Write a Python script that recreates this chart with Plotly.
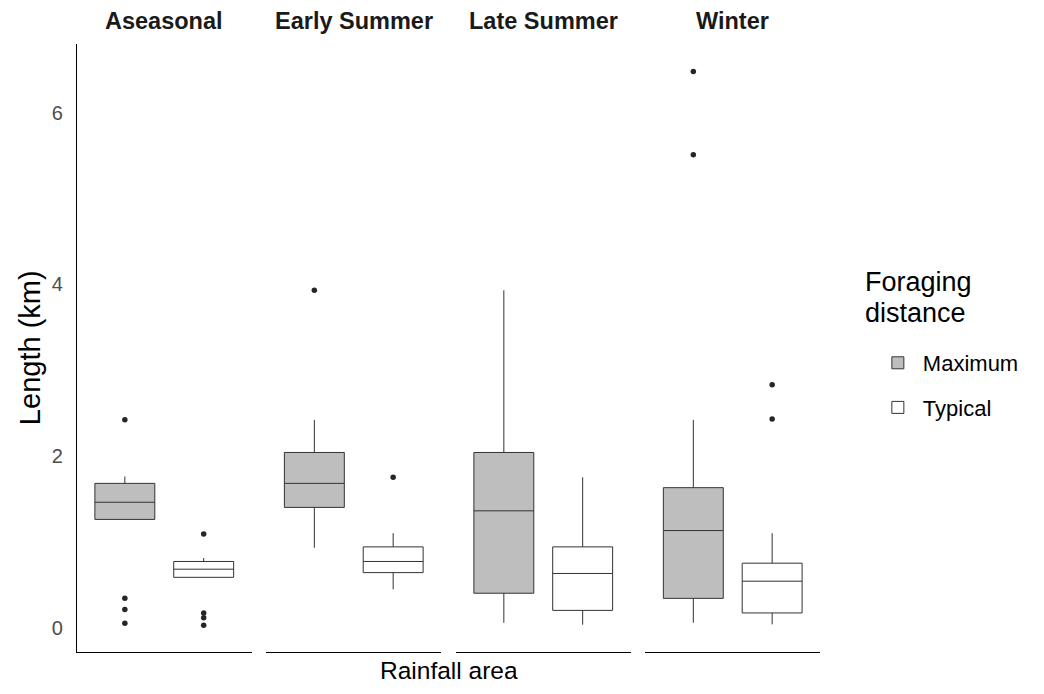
import plotly.graph_objects as go

# ---------------- data ----------------
facets = ["Aseasonal", "Early Summer", "Late Summer", "Winter"]
fills = ["Maximum", "Typical"]

# Maximum foraging distance (km)
max_q1 = [1.26, 1.40, 0.40, 0.34]
max_median = [1.46, 1.68, 1.36, 1.13]
max_q3 = [1.68, 2.04, 2.04, 1.63]
max_lower = [1.26, 0.93, 0.056, 0.056]
max_upper = [1.76, 2.42, 3.93, 2.42]
max_outliers = [[2.42, 0.34, 0.21, 0.05], [3.93], [], [6.48, 5.51]]

# Typical foraging distance (km)
typ_q1 = [0.585, 0.64, 0.20, 0.17]
typ_median = [0.68, 0.77, 0.63, 0.54]
typ_q3 = [0.77, 0.94, 0.94, 0.75]
typ_lower = [0.585, 0.445, 0.033, 0.037]
typ_upper = [0.81, 1.10, 1.75, 1.10]
typ_outliers = [[1.09, 0.17, 0.114, 0.026], [1.75], [], [2.83, 2.43]]

y_ticks = [0, 2, 4, 6]

# ---------------- styling ----------------
OFF = 8                      # page body margin in the browser
W, H = 1044 - 2 * OFF, 694 - 2 * OFF


def px(v):
    """reference-picture pixel -> figure pixel"""
    return v - OFF


L_PX, R_PX, T_PX, B_PX = px(77), px(822), px(44), px(652)
PANEL_W, GAP = 175, 15
FONT = "Liberation Sans, Arial, sans-serif"
LINE = "#333333"
FILL = {"Maximum": "#BEBEBE", "Typical": "#FFFFFF"}

stats = {
    "Maximum": (max_q1, max_median, max_q3, max_lower, max_upper, max_outliers),
    "Typical": (typ_q1, typ_median, typ_q3, typ_lower, typ_upper, typ_outliers),
}

fig = go.Figure()
plot_w = R_PX - L_PX
plot_h = B_PX - T_PX


def xpaper(ref_px):
    return (px(ref_px) - L_PX) / plot_w


def ypaper(ref_px):
    return (B_PX - px(ref_px)) / plot_h


for i, facet in enumerate(facets):
    xa = "x" if i == 0 else f"x{i+1}"
    for fill in fills:
        q1, med, q3, lo, hi, outs = stats[fill]
        fig.add_trace(go.Box(
            x=[fill], q1=[q1[i]], median=[med[i]], q3=[q3[i]],
            lowerfence=[lo[i]], upperfence=[hi[i]],
            name=fill, legendgroup=fill, showlegend=(i == 0),
            fillcolor=FILL[fill], line=dict(color=LINE, width=1),
            whiskerwidth=0, width=0.76, boxpoints=False,
            xaxis=xa, yaxis="y", hoverinfo="skip",
        ))
        if outs[i]:
            fig.add_trace(go.Scatter(
                x=[fill] * len(outs[i]), y=outs[i], mode="markers",
                marker=dict(color="#262626", size=5.5),
                showlegend=False, xaxis=xa, yaxis="y", hoverinfo="skip",
            ))

layout = dict(
    width=W, height=H,
    margin=dict(l=L_PX, r=W - R_PX, t=T_PX, b=H - B_PX, pad=0),
    paper_bgcolor="white", plot_bgcolor="white",
    font=dict(family=FONT, color="black"),
    boxmode="overlay",
    showlegend=True,
    legend=dict(
        x=xpaper(875), xanchor="left",
        y=ypaper(342), yanchor="top",
        font=dict(size=22, color="black"),
        tracegroupgap=13, itemwidth=40,
        bgcolor="rgba(0,0,0,0)",
    ),
    yaxis=dict(
        domain=[0, 1], range=[-0.285, 6.80],
        tickvals=y_ticks, ticktext=[str(v) for v in y_ticks],
        tickfont=dict(size=20, color="#4D4D4D"),
        showgrid=False, zeroline=False,
        showline=True, linecolor="black", linewidth=1.2,
        ticks="", ticklabelstandoff=9,
        anchor="x",
    ),
)

for i in range(len(facets)):
    key = "xaxis" if i == 0 else f"xaxis{i+1}"
    left = (i * (PANEL_W + GAP)) / plot_w
    right = (i * (PANEL_W + GAP) + PANEL_W) / plot_w
    layout[key] = dict(
        domain=[left, min(right, 1.0)],
        type="category", categoryorder="array", categoryarray=fills,
        range=[-0.607, 1.607],
        showticklabels=False, ticks="", showgrid=False, zeroline=False,
        showline=True, linecolor="black", linewidth=1.2,
        anchor="y",
    )

annotations = []
for i, facet in enumerate(facets):
    cx = (i * (PANEL_W + GAP) + PANEL_W / 2) / plot_w
    annotations.append(dict(
        text=f"<b>{facet}</b>", x=cx, y=ypaper(21),
        xref="paper", yref="paper", xanchor="center", yanchor="middle",
        showarrow=False, font=dict(size=23.5, color="#1A1A1A"),
    ))
annotations.append(dict(
    text="Rainfall area", x=0.5, y=ypaper(670),
    xref="paper", yref="paper", xanchor="center", yanchor="middle",
    showarrow=False, font=dict(size=24.5, color="black"),
))
annotations.append(dict(
    text="Length (km)", x=xpaper(30), y=ypaper(348),
    xref="paper", yref="paper", xanchor="center", yanchor="middle",
    textangle=-90, showarrow=False, font=dict(size=29, color="black"),
))
for line_text, ymid in (("Foraging", 282), ("distance", 313)):
    annotations.append(dict(
        text=line_text, x=xpaper(865), y=ypaper(ymid),
        xref="paper", yref="paper", xanchor="left", yanchor="middle",
        align="left", showarrow=False, font=dict(size=27, color="black"),
    ))
layout["annotations"] = annotations

fig.update_layout(**layout)
fig.write_html("out.html")
